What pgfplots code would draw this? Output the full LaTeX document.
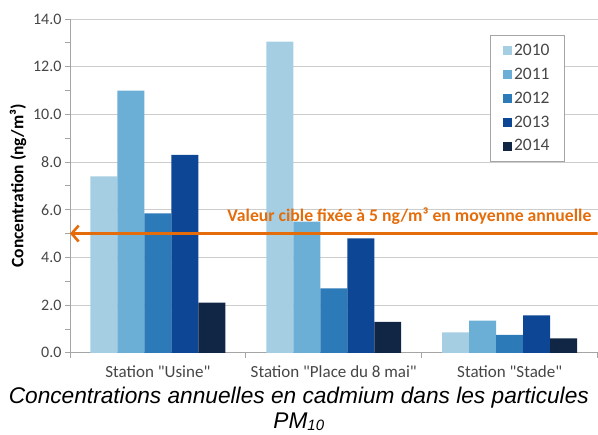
\documentclass[border=0pt]{standalone}
\usepackage{fontspec}
\setmainfont{Carlito}[Ligatures=TeXOff]
\newfontfamily\arialfont{Liberation Sans}
\usepackage{pgfplots}
\pgfplotsset{compat=1.18}
\usetikzlibrary{arrows.meta}
\definecolor{c2010}{RGB}{166,206,227}
\definecolor{c2011}{RGB}{107,174,214}
\definecolor{c2012}{RGB}{44,122,184}
\definecolor{c2013}{RGB}{12,70,148}
\definecolor{c2014}{RGB}{16,38,68}
\definecolor{orng}{RGB}{228,108,10}
\definecolor{gridc}{RGB}{205,205,205}
\definecolor{axc}{RGB}{165,165,165}
\definecolor{txt}{RGB}{70,70,70}
\begin{document}
\begin{tikzpicture}
\begin{axis}[
  at={(0,0)}, anchor=south west,
  scale only axis, width=528bp, height=334bp,
  xmin=-0.5, xmax=2.5, ymin=0, ymax=14,
  ybar=0pt, bar width=27bp,
  axis x line*=bottom, axis y line*=left,
  axis line style={axc, line width=0.8bp},
  xtick={-0.5,0.5,1.5,2.5},
  x tick label as interval,
  xticklabels={Station "Usine", Station "Place du 8 mai", Station "Stade"},
  ytick={0,2,...,14},
  minor y tick num=1,
  tick align=outside,
  major tick length=5bp, minor tick length=5bp,
  tick style={axc, line width=0.8bp},
  ymajorgrids, grid style={gridc, line width=0.8bp},
  yticklabel style={/pgf/number format/fixed, /pgf/number format/fixed zerofill, /pgf/number format/precision=1, font=\fontsize{16bp}{18bp}\selectfont, text=txt},
  /pgf/number format/assume math mode=true,
  xticklabel style={font=\fontsize{17bp}{19bp}\selectfont, text=txt, yshift=-4bp},
  ylabel={\bfseries Concentration (ng/m³)},
  every axis y label/.style={at={(axis description cs:-0.0985,0.5)}, rotate=90, anchor=center, font=\fontsize{17.5bp}{19bp}\selectfont},
  legend style={at={(420bp,318bp)}, anchor=north west, draw=axc, line width=0.8bp,
    font=\fontsize{17.5bp}{20bp}\selectfont, text=txt, row sep=7bp, inner xsep=13bp, inner ysep=7bp},
  legend cell align=left,
  legend image code/.code={\fill[#1, draw=none] (0bp,-4.5bp) rectangle (9bp,4.5bp);},
]
\addplot[fill=c2010, draw=none] coordinates {(0,7.4) (1,13.05) (2,0.85)};
\addplot[fill=c2011, draw=none] coordinates {(0,11.0) (1,5.5) (2,1.35)};
\addplot[fill=c2012, draw=none] coordinates {(0,5.85) (1,2.7) (2,0.75)};
\addplot[fill=c2013, draw=none] coordinates {(0,8.3) (1,4.8) (2,1.57)};
\addplot[fill=c2014, draw=none] coordinates {(0,2.1) (1,1.3) (2,0.6)};
\legend{2010,2011,2012,2013,2014}
\draw[orng, line width=2.6bp, -{Straight Barb[length=7bp, width=16bp, line width=2.6bp]}] (axis cs:2.5,5) -- (axis cs:-0.5,5);
\node[anchor=base east, inner sep=0pt, text=orng, font=\bfseries\fontsize{17.7bp}{19bp}\selectfont] at (axis cs:2.5,5) [xshift=-6bp, yshift=12bp] {Valeur cible fixée à 5 ng/m³ en moyenne annuelle};
\end{axis}
\node[anchor=base, inner sep=0pt, font=\arialfont\itshape\fontsize{22.7bp}{28bp}\selectfont] at (229bp,-51bp) {Concentrations annuelles en cadmium dans les particules};
\node[anchor=base, inner sep=0pt, font=\arialfont\itshape\fontsize{22.7bp}{28bp}\selectfont] at (229bp,-76bp) {PM\raisebox{-2bp}{\fontsize{15bp}{16bp}\selectfont 10}};
\path[use as bounding box] (-70bp,-82bp) rectangle (528bp,353bp);
\end{tikzpicture}
\end{document}
